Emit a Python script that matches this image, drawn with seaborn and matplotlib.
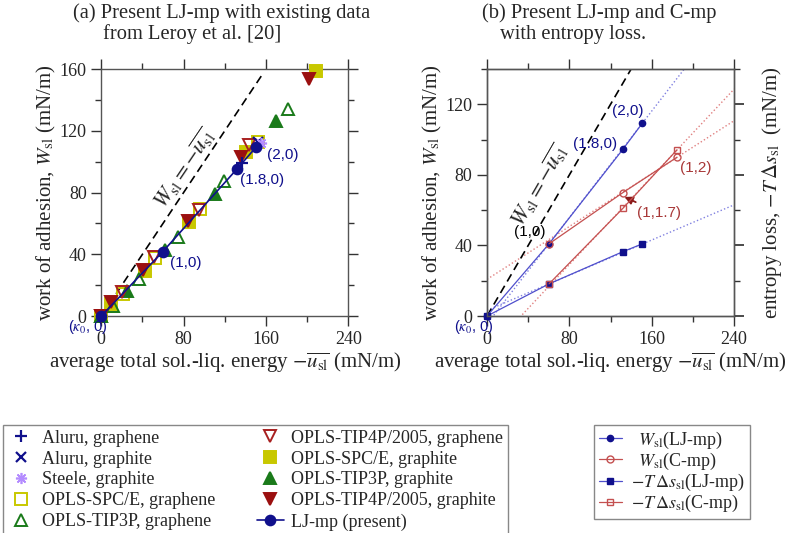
import matplotlib
matplotlib.use("Agg")
import matplotlib.pyplot as plt
from matplotlib.ticker import MultipleLocator
import seaborn as sns

# ---------------- panel (a): Leroy et al. data + present LJ-mp ----------------
ALURU_GRAPHENE_X = [137.0]
ALURU_GRAPHENE_Y = [99.0]
ALURU_GRAPHITE_X = [152.5]
ALURU_GRAPHITE_Y = [113.0]
STEELE_GRAPHITE_X = [155.0]
STEELE_GRAPHITE_Y = [112.0]
SPCE_GRAPHENE_X = [0, 21, 52, 96, 152]
SPCE_GRAPHENE_Y = [0, 14.5, 37.5, 69.5, 112.5]
TIP3P_GRAPHENE_X = [0, 11, 37, 75, 119, 181]
TIP3P_GRAPHENE_Y = [0, 6.5, 24, 51.5, 87.5, 134]
TIP4P_GRAPHENE_X = [0, 20, 51, 95, 144]
TIP4P_GRAPHENE_Y = [0, 15.5, 38, 69, 110.5]
SPCE_GRAPHITE_X = [0, 9.5, 42, 85, 141, 208.5]
SPCE_GRAPHITE_Y = [0, 8, 29, 61, 106.5, 158.5]
TIP3P_GRAPHITE_X = [0, 25, 62, 110, 170]
TIP3P_GRAPHITE_Y = [0, 16, 42.5, 79, 126.5]
TIP4P_GRAPHITE_X = [0, 9, 41, 84, 136, 201.5]
TIP4P_GRAPHITE_Y = [0, 9, 29.5, 61.5, 103, 153.5]
LJMP_X = [0, 59.5, 131.5, 150.5]
LJMP_Y = [0, 41.5, 95, 109.5]
DIAG_A = [0, 158]

# ---------------- panel (b): LJ-mp and C-mp with entropy loss ----------------
B_LJ_X = [0, 60.2, 132.1, 150.9]
B_W_LJ = [0, 40.9, 94.6, 109.3]
B_S_LJ = [0, 18.2, 36.5, 40.9]
B_C_X = [60.2, 132.1, 184.6]
B_W_C = [40.9, 70.0, 90.0]
B_S_C = [18.2, 61.1, 94.2]
# dotted linear-fit extensions (end values)
FIT_X = [0, 240]
FIT_W_LJ = [-4.5, 176.5]
FIT_W_C = [20.8, 110.7]
FIT_S_LJ = [3.2, 63.0]
FIT_S_C = [-20.5, 128.6]
DIAG_B = [0, 140]

NAVY = "#10108c"
LAVENDER = "#b48cff"
YELLOW = "#c8c800"
GREEN = "#1a7a1a"
DARKRED = "#9b1010"
OPENRED = "#a82020"
LBLUE = "#4f4fcc"
LRED = "#c45050"
BROWN = "#a83838"

sns.set_theme(style="ticks")
plt.rcParams["font.family"] = ["Liberation Serif", "DejaVu Serif"]
plt.rcParams["mathtext.fontset"] = "stix"
plt.rcParams["axes.edgecolor"] = "#555555"
plt.rcParams["axes.linewidth"] = 1.0
SANS = ["Liberation Sans", "DejaVu Sans"]
TICK_FS = 13
LABEL_FS = 15
LEG_FS = 13
TITLE_FS = 14.8


def pts(ax, x, y, marker, color, filled=True, ms=7, label=None, mew=1.4,
        ls="none", lw=1.0, lcolor=None, z=3):
    sns.lineplot(x=x, y=y, ax=ax, marker=marker, linestyle=ls, linewidth=lw,
                 color=lcolor or color,
                 markerfacecolor=color if filled else "none",
                 markeredgecolor=color, markersize=ms, markeredgewidth=mew,
                 label=label, clip_on=False, sort=False, estimator=None,
                 zorder=z)


def style_axes(ax, ylim, ymajor):
    ax.set_xlim(0, 240)
    ax.set_ylim(*ylim)
    ax.xaxis.set_major_locator(MultipleLocator(80))
    ax.xaxis.set_minor_locator(MultipleLocator(40))
    ax.yaxis.set_major_locator(MultipleLocator(ymajor))
    ax.yaxis.set_minor_locator(MultipleLocator(ymajor / 2))
    ax.tick_params(which="both", direction="out", top=True, right=True,
                   color="#333333", labelsize=TICK_FS, width=1.0)
    ax.tick_params(which="major", length=7)
    ax.tick_params(which="minor", length=4)
    ax.set_xlabel(r"average total sol.-liq. energy $-\overline{u_{\rm sl}}$ (mN/m)",
                  fontsize=LABEL_FS, labelpad=2)
    ax.set_ylabel(r"work of adhesion, $W_{\rm sl}$ (mN/m)", fontsize=LABEL_FS,
                  labelpad=1)
    ax.text(-0.055, -0.045, r"($\kappa_0$, 0)", transform=ax.transAxes,
            color=NAVY, fontsize=10.5, family=SANS, ha="center", va="center")


fig = plt.figure(figsize=(7.9, 5.33), dpi=100)
axa = fig.add_axes([0.1282, 0.4071, 0.3127, 0.4634])
axb = fig.add_axes([0.6165, 0.4071, 0.3127, 0.4634])

# ---- panel (a)
sns.lineplot(x=DIAG_A, y=DIAG_A, ax=axa, color="black", linewidth=1.2,
             linestyle=(0, (5, 3)), zorder=2)
pts(axa, SPCE_GRAPHENE_X, SPCE_GRAPHENE_Y, "s", YELLOW, False, 8.5, "OPLS-SPC/E, graphene")
pts(axa, SPCE_GRAPHITE_X, SPCE_GRAPHITE_Y, "s", YELLOW, True, 8.5, "OPLS-SPC/E, graphite")
pts(axa, TIP3P_GRAPHENE_X, TIP3P_GRAPHENE_Y, "^", GREEN, False, 8, "OPLS-TIP3P, graphene")
pts(axa, TIP3P_GRAPHITE_X, TIP3P_GRAPHITE_Y, "^", GREEN, True, 8, "OPLS-TIP3P, graphite")
pts(axa, TIP4P_GRAPHENE_X, TIP4P_GRAPHENE_Y, "v", OPENRED, False, 8, "OPLS-TIP4P/2005, graphene")
pts(axa, TIP4P_GRAPHITE_X, TIP4P_GRAPHITE_Y, "v", DARKRED, True, 8, "OPLS-TIP4P/2005, graphite")
pts(axa, ALURU_GRAPHENE_X, ALURU_GRAPHENE_Y, "+", NAVY, True, 8, "Aluru, graphene", mew=1.6)
pts(axa, ALURU_GRAPHITE_X, ALURU_GRAPHITE_Y, "x", NAVY, True, 7, "Aluru, graphite", mew=1.6)
pts(axa, STEELE_GRAPHITE_X, STEELE_GRAPHITE_Y, (8, 2, 0), LAVENDER, True, 8, "Steele, graphite", mew=1.2)
pts(axa, LJMP_X, LJMP_Y, "o", NAVY, True, 7, "LJ-mp (present)", ls="-", lw=1.2, z=5)
style_axes(axa, (0, 160), 40)
axa.text(81, 95.6, r"$W_{\rm sl} = -\overline{u_{\rm sl}}$", fontsize=16,
         rotation=56, ha="center", va="center", rotation_mode="anchor")
axa.text(176, 104.5, "(2,0)", color=NAVY, fontsize=11, family=SANS, ha="center", va="center")
axa.text(156, 88, "(1.8,0)", color=NAVY, fontsize=11, family=SANS, ha="center", va="center")
axa.text(82, 34.5, "(1,0)", color=NAVY, fontsize=11, family=SANS, ha="center", va="center")

h, l = axa.get_legend_handles_labels()
lookup = dict(zip(l, h))
order_a = ["Aluru, graphene", "Aluru, graphite", "Steele, graphite",
           "OPLS-SPC/E, graphene", "OPLS-TIP3P, graphene",
           "OPLS-TIP4P/2005, graphene", "OPLS-SPC/E, graphite",
           "OPLS-TIP3P, graphite", "OPLS-TIP4P/2005, graphite", "LJ-mp (present)"]
if axa.get_legend():
    axa.get_legend().remove()
fig.legend([lookup[k] for k in order_a], order_a, ncol=2, loc="upper left",
           bbox_to_anchor=(0.004, 0.2026), borderaxespad=0, fontsize=LEG_FS,
           frameon=True, fancybox=False, edgecolor="#888888", framealpha=1,
           labelspacing=0.22, handlelength=1.5, handletextpad=0.4,
           columnspacing=2.3, borderpad=0.25)

# ---- panel (b)
sns.lineplot(x=DIAG_B, y=DIAG_B, ax=axb, color="black", linewidth=1.2,
             linestyle=(0, (5, 3)), zorder=2)
for fy, c in [(FIT_W_LJ, "#8080e0"), (FIT_W_C, "#e08080"),
              (FIT_S_LJ, "#8080e0"), (FIT_S_C, "#e08080")]:
    sns.lineplot(x=FIT_X, y=fy, ax=axb, color=c, linewidth=1.0,
                 linestyle=":", zorder=1)
pts(axb, B_LJ_X, B_W_LJ, "o", NAVY, True, 4.5, r"$\;\;W_{\rm sl}$(LJ-mp)",
    mew=1.0, ls="-", lw=0.9, lcolor=LBLUE)
pts(axb, B_LJ_X, B_S_LJ, "s", NAVY, True, 4.5, r"$-T\,\Delta s_{\rm sl}$(LJ-mp)",
    mew=1.0, ls="-", lw=0.9, lcolor=LBLUE)
pts(axb, B_C_X, B_W_C, "o", LRED, False, 5, r"$\;\;W_{\rm sl}$(C-mp)",
    mew=1.0, ls="-", lw=0.9, lcolor=LRED, z=4)
pts(axb, B_C_X, B_S_C, "s", LRED, False, 4.5, r"$-T\,\Delta s_{\rm sl}$(C-mp)",
    mew=1.0, ls="-", lw=0.9, lcolor=LRED, z=4)
style_axes(axb, (0, 140), 40)
axb.text(51, 74, r"$W_{\rm sl} = -\overline{u_{\rm sl}}$", fontsize=16,
         rotation=60, ha="center", va="center", rotation_mode="anchor")
axb.text(137, 116, "(2,0)", color=NAVY, fontsize=11, family=SANS, ha="center", va="center")
axb.text(105, 97.5, "(1.8,0)", color=NAVY, fontsize=11, family=SANS, ha="center", va="center")
axb.text(41.5, 47.5, "(1,0)", color="black", fontsize=11, family=SANS, ha="center", va="center")
axb.text(203, 84, "(1,2)", color=BROWN, fontsize=11, family=SANS, ha="center", va="center")
axb.annotate("(1,1.7)", xy=(133.5, 67.5), xytext=(146, 58.4), color=BROWN,
             fontsize=11, family=SANS, ha="left", va="center",
             arrowprops=dict(arrowstyle="-|>", color="#8b1a1a", lw=1.3,
                             shrinkA=1, shrinkB=0, mutation_scale=12))

twin = axb.twinx()
twin.set_ylim(0, 140)
twin.yaxis.set_major_locator(MultipleLocator(40))
twin.yaxis.set_minor_locator(MultipleLocator(20))
twin.tick_params(which="both", direction="out", labelright=False, color="#333333")
twin.tick_params(which="major", length=7)
twin.tick_params(which="minor", length=4)
twin.set_ylabel(r"entropy loss, $-T\,\Delta s_{\rm sl}$  (mN/m)", fontsize=LABEL_FS,
                labelpad=12)

h, l = axb.get_legend_handles_labels()
lookup = dict(zip(l, h))
order_b = [r"$\;\;W_{\rm sl}$(LJ-mp)", r"$\;\;W_{\rm sl}$(C-mp)",
           r"$-T\,\Delta s_{\rm sl}$(LJ-mp)", r"$-T\,\Delta s_{\rm sl}$(C-mp)"]
if axb.get_legend():
    axb.get_legend().remove()
fig.legend([lookup[k] for k in order_b], order_b, loc="upper left",
           bbox_to_anchor=(0.752, 0.2026), borderaxespad=0, fontsize=LEG_FS,
           frameon=True, fancybox=False, edgecolor="#888888", framealpha=1,
           labelspacing=0.0, handlelength=1.3, handletextpad=0.5,
           borderpad=0.25)

# titles: second line indented, as in the source figure
fig.text(73 / 790, 1 - 13 / 533, "(a) Present LJ-mp with existing data",
         fontsize=TITLE_FS, ha="left", va="center")
fig.text(103 / 790, 1 - 34 / 533, "from Leroy et al. [20]",
         fontsize=TITLE_FS, ha="left", va="center")
fig.text(482 / 790, 1 - 13 / 533, "(b) Present LJ-mp and C-mp",
         fontsize=TITLE_FS, ha="left", va="center")
fig.text(500 / 790, 1 - 34 / 533, "with entropy loss.",
         fontsize=TITLE_FS, ha="left", va="center")

fig.savefig("out.png", dpi=100)
